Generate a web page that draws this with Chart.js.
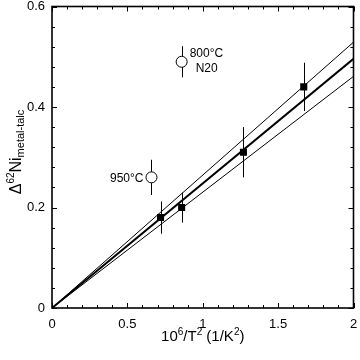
<!DOCTYPE html>
<html>
<head>
<meta charset="utf-8">
<script src="https://cdn.jsdelivr.net/npm/chart.js@4.4.0/dist/chart.umd.min.js"></script>
<style>
  body { margin: 0; background: #fff; }
  canvas { display: block; }
</style>
</head>
<body>
<canvas id="chart" width="360" height="360"></canvas>
<script>
// data
const sampleX = [0.72, 0.86, 1.27, 1.67]
const sampleY = [0.18, 0.20, 0.31, 0.44]
const sampleErr = [0.032, 0.03, 0.05, 0.048]

const outlierX = [0.66, 0.86]
const outlierY = [0.26, 0.49]
const outlierErr = [0.035, 0.031]
const outlierLabels = [['950\u00B0C'], ['800\u00B0C', 'N20']]

const fitX = [0, 2]
const fitMid = [0, 0.496]
const fitHigh = [0, 0.529]
const fitLow = [0, 0.461]

const xTicks = [0, 0.5, 1, 1.5, 2]
const yTicks = [0, 0.2, 0.4, 0.6]

const FONT = '"Liberation Sans", Arial, sans-serif'

const pts = (xs, ys) => xs.map((x, i) => ({ x, y: ys[i] }))

const lineSet = (ys, width) => ({
    type: 'line',
    data: pts(fitX, ys),
    borderColor: '#000',
    borderWidth: width,
    pointRadius: 0,
    fill: false,
    order: 1
})

const noOverflow = s => {
    s.paddingTop = 0
    s.paddingBottom = 0
    s.paddingLeft = 0
    s.paddingRight = 0
}

// error bars, frame, inward ticks and axis titles
const decorations = {
    id: 'decorations',
    beforeDatasetsDraw(chart) {
        const { ctx, scales: { x, y } } = chart
        ctx.save()
        ctx.strokeStyle = '#000'
        ctx.lineWidth = 1
        const bars = (xs, ys, es) => xs.forEach((v, i) => {
            const px = Math.round(x.getPixelForValue(v)) + 0.5
            ctx.beginPath()
            ctx.moveTo(px, y.getPixelForValue(ys[i] + es[i]))
            ctx.lineTo(px, y.getPixelForValue(ys[i] - es[i]))
            ctx.stroke()
        })
        bars(sampleX, sampleY, sampleErr)
        bars(outlierX, outlierY, outlierErr)
        ctx.restore()
    },
    afterDraw(chart) {
        const { ctx, chartArea: a, scales: { x, y } } = chart
        ctx.save()
        ctx.strokeStyle = '#000'

        // ticks
        ctx.lineWidth = 1
        ctx.beginPath()
        for (let i = 0; i <= 20; i++) {
            const v = i / 10
            const len = i % 5 == 0 ? 5 : 3
            const px = Math.round(x.getPixelForValue(v)) + 0.5
            ctx.moveTo(px, a.bottom); ctx.lineTo(px, a.bottom - len)
            ctx.moveTo(px, a.top); ctx.lineTo(px, a.top + len)
        }
        for (let i = 0; i <= 15; i++) {
            const v = i * 0.04
            const len = i % 5 == 0 ? 5 : 3
            const py = Math.round(y.getPixelForValue(v)) + 0.5
            ctx.moveTo(a.left, py); ctx.lineTo(a.left + len, py)
            ctx.moveTo(a.right, py); ctx.lineTo(a.right - len, py)
        }
        ctx.stroke()

        // frame
        ctx.lineWidth = 1.6
        ctx.strokeRect(a.left, a.top, a.right - a.left, a.bottom - a.top)

        // point labels
        ctx.fillStyle = '#000'
        ctx.font = '12px ' + FONT
        ctx.textBaseline = 'middle'
        const p0x = x.getPixelForValue(outlierX[0]), p0y = y.getPixelForValue(outlierY[0])
        ctx.textAlign = 'right'
        ctx.fillText(outlierLabels[0][0], p0x - 8, p0y + 1)
        const p1x = x.getPixelForValue(outlierX[1]), p1y = y.getPixelForValue(outlierY[1])
        ctx.textAlign = 'left'
        ctx.fillText(outlierLabels[1][0], p1x + 8, p1y - 8)
        ctx.fillText(outlierLabels[1][1], p1x + 14, p1y + 7)

        // rich text helper
        const runs = parts => {
            let w = 0
            parts.forEach(p => { ctx.font = p.size + 'px ' + FONT; w += ctx.measureText(p.t).width })
            return w
        }
        const drawRuns = (parts, x0, base) => {
            let cx = x0
            parts.forEach(p => {
                ctx.font = p.size + 'px ' + FONT
                ctx.fillText(p.t, cx, base + (p.dy || 0))
                cx += ctx.measureText(p.t).width
            })
        }
        ctx.textAlign = 'left'
        ctx.textBaseline = 'alphabetic'

        // x title
        const xt = [
            { t: '10', size: 15 }, { t: '6', size: 10, dy: -6 }, { t: '/T', size: 15 },
            { t: '2', size: 10, dy: -6 }, { t: ' (1/K', size: 15 }, { t: '2', size: 10, dy: -6 },
            { t: ')', size: 15 }
        ]
        const xw = runs(xt)
        drawRuns(xt, (a.left + a.right) / 2 - xw / 2, 341)

        // y title
        const yt = [
            { t: '\u0394', size: 16 }, { t: '62', size: 10, dy: -7 }, { t: 'Ni', size: 16 },
            { t: 'metal-talc', size: 11, dy: 3 }
        ]
        const yw = runs(yt)
        ctx.translate(21, 152)
        ctx.rotate(-Math.PI / 2)
        drawRuns(yt, -yw / 2, 0)
        ctx.restore()
    }
}

new Chart(document.getElementById('chart'), {
    type: 'scatter',
    data: {
        datasets: [
            {
                data: pts(outlierX, outlierY),
                pointStyle: 'circle',
                pointRadius: 5.5,
                backgroundColor: '#fff',
                borderColor: '#000',
                borderWidth: 1,
                order: 0
            },
            {
                data: pts(sampleX, sampleY),
                pointStyle: 'rect',
                pointRadius: 5,
                backgroundColor: '#000',
                borderColor: '#000',
                borderWidth: 0,
                order: 0
            },
            lineSet(fitMid, 2),
            lineSet(fitHigh, 1),
            lineSet(fitLow, 1)
        ]
    },
    options: {
        responsive: false,
        animation: false,
        layout: { padding: { top: 6, right: 4, left: 0, bottom: 0 } },
        plugins: { legend: { display: false }, tooltip: { enabled: false } },
        scales: {
            x: {
                type: 'linear',
                min: 0,
                max: 2,
                afterBuildTicks: s => { s.ticks = xTicks.map(value => ({ value })) },
                afterFit: s => { s.height = 52; noOverflow(s) },
                grid: { display: false, drawTicks: false },
                border: { display: false },
                ticks: {
                    padding: 9,
                    color: '#000',
                    font: { size: 13, family: FONT },
                    callback: v => String(v)
                }
            },
            y: {
                type: 'linear',
                min: 0,
                max: 0.6,
                afterBuildTicks: s => { s.ticks = yTicks.map(value => ({ value })) },
                afterFit: s => { s.width = 52; noOverflow(s) },
                grid: { display: false, drawTicks: false },
                border: { display: false },
                ticks: {
                    padding: 7,
                    color: '#000',
                    font: { size: 13, family: FONT },
                    callback: v => String(v)
                }
            }
        }
    },
    plugins: [decorations]
})
</script>
</body>
</html>
